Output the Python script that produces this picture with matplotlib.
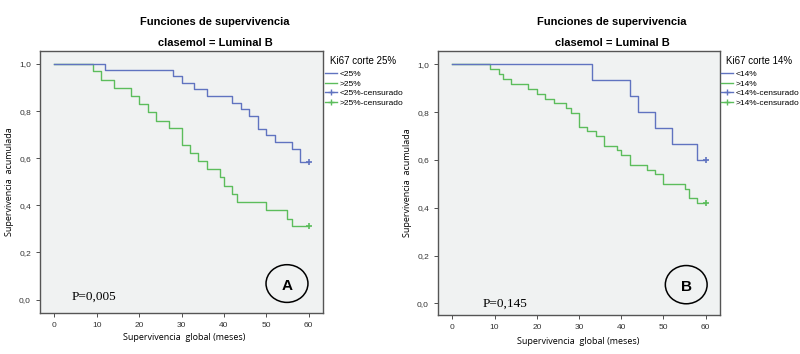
import matplotlib.pyplot as plt
from matplotlib.patches import Ellipse
from matplotlib.lines import Line2D

# ---------------------------------------------------------
# DATA
# ---------------------------------------------------------
X_TICKS = [0, 10, 20, 30, 40, 50, 60]
Y_TICKS = [0.0, 0.2, 0.4, 0.6, 0.8, 1.0]
Y_TICK_LABELS = ["0,0", "0,2", "0,4", "0,6", "0,8", "1,0"]

# Panel A: Ki67 corte 25%
A_LOW_T = [0, 12, 28, 30, 33, 36, 42, 44, 46, 48, 50, 52, 56, 58, 60]
A_LOW_S = [1.0, 0.974, 0.947, 0.919, 0.892, 0.863, 0.835, 0.807, 0.779,
           0.723, 0.697, 0.669, 0.641, 0.585, 0.585]
A_HIGH_T = [0, 9, 11, 14, 18, 20, 22, 24, 27, 30, 32, 34, 36, 39, 40, 42,
            43, 50, 55, 56, 60]
A_HIGH_S = [1.0, 0.97, 0.932, 0.90, 0.864, 0.831, 0.796, 0.760, 0.727,
            0.655, 0.622, 0.587, 0.555, 0.519, 0.484, 0.450, 0.414, 0.379,
            0.344, 0.312, 0.312]

# Panel B: Ki67 corte 14%
B_LOW_T = [0, 33, 42, 44, 48, 52, 58, 60]
B_LOW_S = [1.0, 0.933, 0.867, 0.8, 0.733, 0.667, 0.6, 0.6]
B_HIGH_T = [0, 9, 11, 12, 14, 18, 20, 22, 24, 27, 28, 30, 32, 34, 36, 39,
            40, 42, 46, 48, 50, 55, 56, 58, 60]
B_HIGH_S = [1.0, 0.98, 0.96, 0.939, 0.918, 0.898, 0.878, 0.857, 0.837,
            0.816, 0.796, 0.739, 0.72, 0.70, 0.659, 0.64, 0.62, 0.58, 0.56,
            0.54, 0.50, 0.48, 0.44, 0.42, 0.42]

BLUE = "#6073c0"
GREEN = "#5cbd5c"
BG = "#f0f2f2"
FRAME = "#555555"

plt.rcParams["font.family"] = ["Liberation Sans", "DejaVu Sans"]

fig = plt.figure(figsize=(8.0, 3.54), dpi=100)


def draw_panel(rect, low_t, low_s, high_t, high_s, cut, p_text, p_xy,
               letter, circ_xy, ylim, title_x, leg_x, xlabel_x, xlabel_y):
    ax = fig.add_axes(rect)
    ax.set_facecolor(BG)

    ax.step(high_t, high_s, where="post", color=GREEN, lw=1.0)
    ax.step(low_t, low_s, where="post", color=BLUE, lw=1.0)
    # censored marks at the end of follow-up
    ax.plot(low_t[-1], low_s[-1], marker="+", color=BLUE, ms=5, mew=1.2)
    ax.plot(high_t[-1], high_s[-1], marker="+", color=GREEN, ms=5, mew=1.2)

    ax.set_xlim(-3.4, 63.4)
    ax.set_ylim(*ylim)
    ax.set_xticks(X_TICKS)
    ax.set_yticks(Y_TICKS)
    ax.set_yticklabels(Y_TICK_LABELS)
    ax.tick_params(labelsize=6, colors="#333333", length=3, width=0.6)
    for sp in ax.spines.values():
        sp.set_color(FRAME)
        sp.set_linewidth(1.0)

    ax.text(p_xy[0], p_xy[1], p_text, family="Liberation Serif",
            fontsize=9.5, va="center", ha="left")
    ax.add_patch(Ellipse(circ_xy, 9.9, 0.16, fill=False, ec="black",
                         lw=1.1))
    ax.text(circ_xy[0], circ_xy[1] - 0.01, letter, fontsize=11,
            fontweight="bold", ha="center", va="center")

    fig.text(title_x, 1 - 22 / 354, "Funciones de supervivencia",
             fontsize=8, fontweight="bold", ha="center", va="center")
    fig.text(title_x, 1 - 43 / 354, "clasemol = Luminal B",
             fontsize=8, fontweight="bold", ha="center", va="center")
    fig.text(xlabel_x, xlabel_y, "Supervivencia  global (meses)",
             family="Open Sans", fontsize=6.5, ha="center", va="center")
    ax.set_ylabel("Supervivencia  acumulada", family="Open Sans",
                  fontsize=6.5)
    ax.yaxis.set_label_coords(-0.092, 0.5)

    fig.text(leg_x + 5 / 800, 1 - 61 / 354, "Ki67 corte %d%%" % cut,
             fontsize=7, ha="left", va="center")
    handles = [
        Line2D([], [], color=BLUE, lw=1.0),
        Line2D([], [], color=GREEN, lw=1.0),
        Line2D([], [], color=BLUE, lw=1.0, marker="+", ms=5),
        Line2D([], [], color=GREEN, lw=1.0, marker="+", ms=5),
    ]
    labels = ["<%d%%" % cut, ">%d%%" % cut,
              "<%d%%-censurado" % cut, ">%d%%-censurado" % cut]
    fig.legend(handles, labels, loc="upper left",
               bbox_to_anchor=(leg_x, 1 - 70 / 354),
               frameon=False, fontsize=6, handlelength=1.4,
               handletextpad=0.3, labelspacing=0.22, borderpad=0.0,
               borderaxespad=0.0)
    return ax


draw_panel([40 / 800, 41 / 354, 283 / 800, 262 / 354],
           A_LOW_T, A_LOW_S, A_HIGH_T, A_HIGH_S, 25,
           "P=0,005", (4.0, 0.01), "A", (54.9, 0.068),
           (-0.057, 1.055), 215 / 800, 325 / 800, 184 / 800, 1 - 337 / 354)

draw_panel([438 / 800, 39 / 354, 282 / 800, 264 / 354],
           B_LOW_T, B_LOW_S, B_HIGH_T, B_HIGH_S, 14,
           "P=0,145", (7.2, 0.0), "B", (55.4, 0.078),
           (-0.049, 1.056), 612 / 800, 721 / 800, 578 / 800, 1 - 341 / 354)

fig.savefig("out.png", dpi=100)
